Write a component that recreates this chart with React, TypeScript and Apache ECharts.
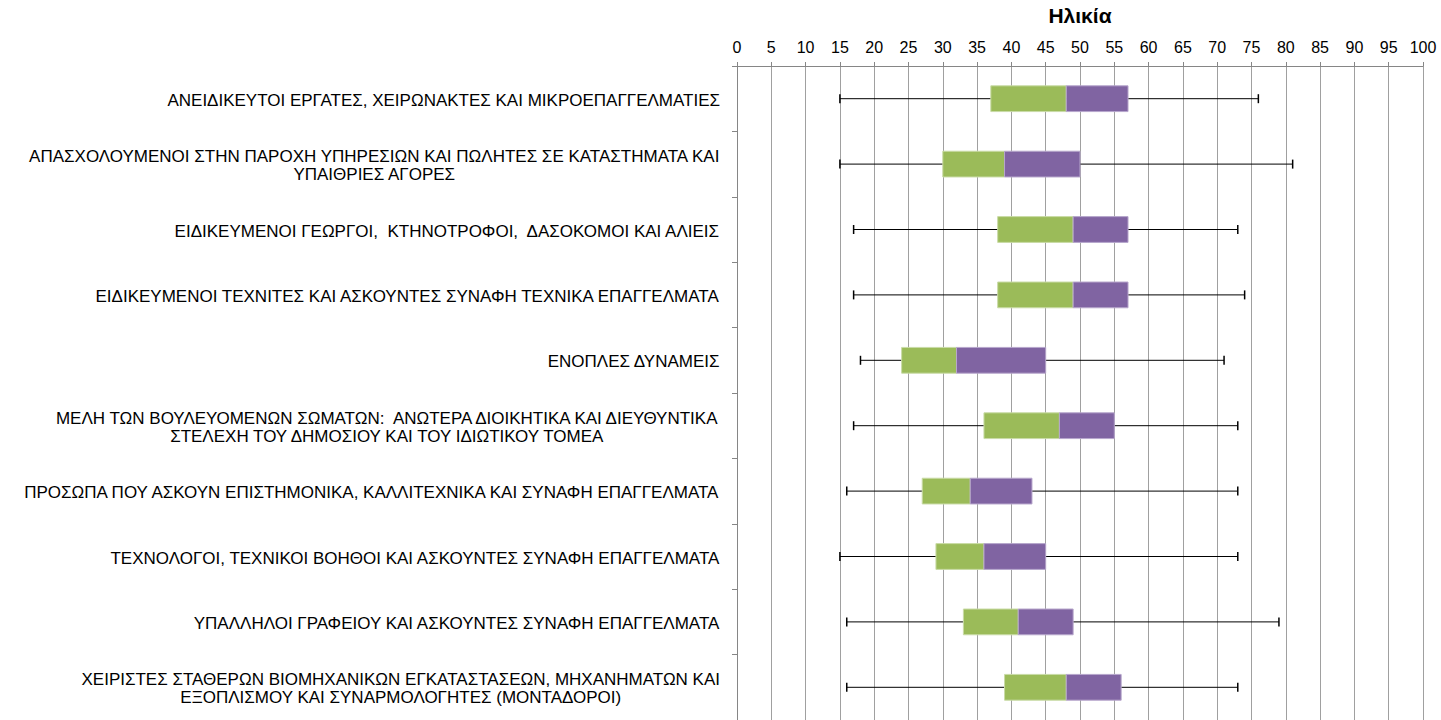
import React, { useEffect, useRef } from "react";
import * as echarts from "echarts";

const categories: string[] = [
  "ΑΝΕΙΔΙΚΕΥΤΟΙ ΕΡΓΑΤΕΣ, ΧΕΙΡΩΝΑΚΤΕΣ ΚΑΙ ΜΙΚΡΟΕΠΑΓΓΕΛΜΑΤΙΕΣ",
  "ΑΠΑΣΧΟΛΟΥΜΕΝΟΙ ΣΤΗΝ ΠΑΡΟΧΗ ΥΠΗΡΕΣΙΩΝ ΚΑΙ ΠΩΛΗΤΕΣ ΣΕ ΚΑΤΑΣΤΗΜΑΤΑ ΚΑΙ\nΥΠΑΙΘΡΙΕΣ ΑΓΟΡΕΣ",
  "ΕΙΔΙΚΕΥΜΕΝΟΙ ΓΕΩΡΓΟΙ,  ΚΤΗΝΟΤΡΟΦΟΙ,  ΔΑΣΟΚΟΜΟΙ ΚΑΙ ΑΛΙΕΙΣ",
  "ΕΙΔΙΚΕΥΜΕΝΟΙ ΤΕΧΝΙΤΕΣ ΚΑΙ ΑΣΚΟΥΝΤΕΣ ΣΥΝΑΦΗ ΤΕΧΝΙΚΑ ΕΠΑΓΓΕΛΜΑΤΑ",
  "ΕΝΟΠΛΕΣ ΔΥΝΑΜΕΙΣ",
  "ΜΕΛΗ ΤΩΝ ΒΟΥΛΕΥΟΜΕΝΩΝ ΣΩΜΑΤΩΝ:  ΑΝΩΤΕΡΑ ΔΙΟΙΚΗΤΙΚΑ ΚΑΙ ΔΙΕΥΘΥΝΤΙΚΑ\nΣΤΕΛΕΧΗ ΤΟΥ ΔΗΜΟΣΙΟΥ ΚΑΙ ΤΟΥ ΙΔΙΩΤΙΚΟΥ ΤΟΜΕΑ",
  "ΠΡΟΣΩΠΑ ΠΟΥ ΑΣΚΟΥΝ ΕΠΙΣΤΗΜΟΝΙΚΑ, ΚΑΛΛΙΤΕΧΝΙΚΑ ΚΑΙ ΣΥΝΑΦΗ ΕΠΑΓΓΕΛΜΑΤΑ",
  "ΤΕΧΝΟΛΟΓΟΙ, ΤΕΧΝΙΚΟΙ ΒΟΗΘΟΙ ΚΑΙ ΑΣΚΟΥΝΤΕΣ ΣΥΝΑΦΗ ΕΠΑΓΓΕΛΜΑΤΑ",
  "ΥΠΑΛΛΗΛΟΙ ΓΡΑΦΕΙΟΥ ΚΑΙ ΑΣΚΟΥΝΤΕΣ ΣΥΝΑΦΗ ΕΠΑΓΓΕΛΜΑΤΑ",
  "ΧΕΙΡΙΣΤΕΣ ΣΤΑΘΕΡΩΝ ΒΙΟΜΗΧΑΝΙΚΩΝ ΕΓΚΑΤΑΣΤΑΣΕΩΝ, ΜΗΧΑΝΗΜΑΤΩΝ ΚΑΙ\nΕΞΟΠΛΙΣΜΟΥ ΚΑΙ ΣΥΝΑΡΜΟΛΟΓΗΤΕΣ (ΜΟΝΤΑΔΟΡΟΙ)",
];

const minAge: number[] = [15, 15, 17, 17, 18, 17, 16, 15, 16, 16];
const q1Age: number[] = [37, 30, 38, 38, 24, 36, 27, 29, 33, 39];
const medianAge: number[] = [48, 39, 49, 49, 32, 47, 34, 36, 41, 48];
const q3Age: number[] = [57, 50, 57, 57, 45, 55, 43, 45, 49, 56];
const maxAge: number[] = [76, 81, 73, 74, 71, 73, 73, 73, 79, 73];

const axisTitle = "Ηλικία";

const LABEL_FONT = "'Liberation Sans', Arial, sans-serif";
const GREEN = "#9BBB59";
const PURPLE = "#8064A2";

export default function App() {
  const ref = useRef<HTMLDivElement | null>(null);

  useEffect(() => {
    if (!ref.current) return;
    const chart = echarts.init(ref.current, undefined, { renderer: "svg" });

    const data = categories.map((_, i) => [
      i,
      minAge[i],
      q1Age[i],
      medianAge[i],
      q3Age[i],
      maxAge[i],
    ]);

    const option: any = {
      animation: false,
      backgroundColor: "#ffffff",
      grid: { left: 737, top: 62, width: 686, height: 660, containLabel: false },
      xAxis: {
        type: "value",
        position: "top",
        min: 0,
        max: 100,
        interval: 5,
        name: axisTitle,
        nameLocation: "middle",
        nameGap: 40,
        nameTextStyle: {
          fontFamily: LABEL_FONT,
          fontWeight: "bold",
          fontSize: 21,
          color: "#000",
        },
        axisLine: { show: true, lineStyle: { color: "#868686", width: 1 } },
        axisTick: { show: true, length: 4, lineStyle: { color: "#868686" } },
        axisLabel: {
          fontFamily: LABEL_FONT,
          fontSize: 16,
          color: "#000",
          margin: 11,
        },
        splitLine: { show: true, lineStyle: { color: "#a0a0a0", width: 1 } },
      },
      yAxis: {
        type: "category",
        data: categories,
        inverse: true,
        axisLine: { show: true, lineStyle: { color: "#868686", width: 1 } },
        axisTick: { show: true, length: 5, lineStyle: { color: "#868686" } },
        splitLine: { show: false },
        axisLabel: {
          margin: 17,
          color: "#000",
          fontFamily: LABEL_FONT,
          fontSize: 17,
          formatter: (v: string) =>
            v
              .split("\n")
              .map((l) => `{c|${l}}`)
              .join("\n"),
          rich: {
            c: {
              align: "center",
              fontFamily: LABEL_FONT,
              fontSize: 17,
              lineHeight: 18,
              color: "#000",
              padding: [3, 0, 0, 0],
            },
          },
        },
      },
      series: [
        {
          type: "custom",
          data,
          encode: { x: [1, 2, 3, 4, 5], y: 0 },
          renderItem: (params: any, api: any) => {
            const idx = api.value(0);
            const pMin = api.coord([api.value(1), idx]);
            const pQ1 = api.coord([api.value(2), idx]);
            const pMed = api.coord([api.value(3), idx]);
            const pQ3 = api.coord([api.value(4), idx]);
            const pMax = api.coord([api.value(5), idx]);
            const band = api.size([0, 1])[1];
            const h = band * 0.394;
            const cy = pMin[1];
            const cap = 4.5;
            const lineStyle = { stroke: "#000", lineWidth: 1 };
            return {
              type: "group",
              children: [
                {
                  type: "line",
                  shape: { x1: pMin[0], y1: cy, x2: pMax[0], y2: cy },
                  style: lineStyle,
                },
                {
                  type: "line",
                  shape: { x1: pMin[0], y1: cy - cap, x2: pMin[0], y2: cy + cap },
                  style: { stroke: "#000", lineWidth: 1.5 },
                },
                {
                  type: "line",
                  shape: { x1: pMax[0], y1: cy - cap, x2: pMax[0], y2: cy + cap },
                  style: { stroke: "#000", lineWidth: 1.5 },
                },
                {
                  type: "rect",
                  shape: { x: pQ1[0], y: cy - h / 2, width: pMed[0] - pQ1[0], height: h },
                  style: { fill: GREEN, stroke: "#c9dba6", lineWidth: 1 },
                },
                {
                  type: "rect",
                  shape: { x: pMed[0], y: cy - h / 2, width: pQ3[0] - pMed[0], height: h },
                  style: { fill: PURPLE, stroke: "#b7a7cc", lineWidth: 1 },
                },
              ],
            };
          },
        },
      ],
    };

    chart.setOption(option);
    return () => chart.dispose();
  }, []);

  return (
    <div
      ref={ref}
      style={{ position: "absolute", left: 0, top: 0, width: 1441, height: 720 }}
    />
  );
}
